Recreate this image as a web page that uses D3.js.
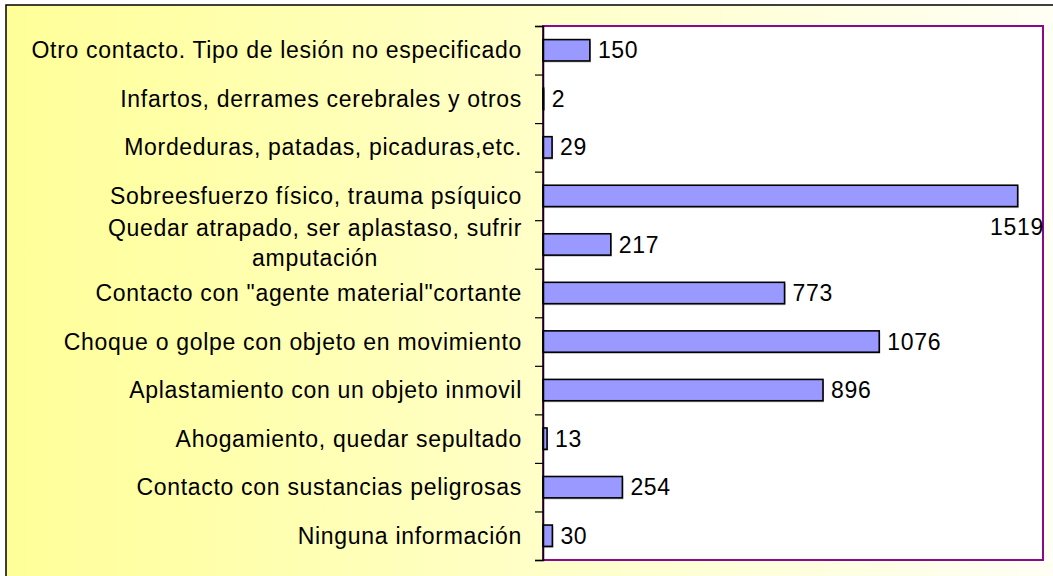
<!DOCTYPE html>
<head>
  <meta charset="utf-8">
  <title>Tipo de contacto</title>
  <style>
    body { margin: 0; }
    text { font-family: "Liberation Sans", Arial, sans-serif; letter-spacing: 0.7px; }
  </style>
</head>
<body>
  <script src="https://cdn.jsdelivr.net/npm/d3@7"></script>
  <script>
    // data, top to bottom
    var categories = [
      "Otro contacto. Tipo de lesión no especificado",
      "Infartos, derrames cerebrales y otros",
      "Mordeduras, patadas, picaduras,etc.",
      "Sobreesfuerzo físico, trauma psíquico",
      "Quedar atrapado, ser aplastaso, sufrir|amputación",
      "Contacto con \"agente material\"cortante",
      "Choque o golpe con objeto en movimiento",
      "Aplastamiento con un objeto inmovil",
      "Ahogamiento, quedar sepultado",
      "Contacto con sustancias peligrosas",
      "Ninguna información"
    ];
    var values = [150, 2, 29, 1519, 217, 773, 1076, 896, 13, 254, 30];
    var xMax = 1600;

    var w = 1053, h = 576;
    var plot = {left: 543, right: 1043, top: 26, bottom: 560};
    var fontSize = "23px";

    var svg = d3.select("body").append("svg")
        .attr("width", w)
        .attr("height", h);

    var grad = svg.append("defs").append("linearGradient")
        .attr("id", "bg")
        .attr("x1", "0").attr("x2", "1").attr("y1", "0").attr("y2", "0");
    grad.append("stop").attr("offset", "0%").attr("stop-color", "#ffff99");
    grad.append("stop").attr("offset", "100%").attr("stop-color", "#fffff6");

    // chart area background + border
    svg.append("rect")
        .attr("x", 6).attr("y", 5)
        .attr("width", w + 10).attr("height", h + 10)
        .attr("fill", "url(#bg)")
        .attr("stroke", "#000")
        .attr("stroke-width", 1.5);

    var x = d3.scaleLinear()
        .domain([0, xMax])
        .range([plot.left, plot.right]);

    var y = d3.scaleBand()
        .domain(categories)
        .range([plot.top, plot.bottom])
        .paddingInner(0.56)
        .paddingOuter(0.28);

    // plot area
    svg.append("rect")
        .attr("x", plot.left)
        .attr("y", plot.top)
        .attr("width", plot.right - plot.left)
        .attr("height", plot.bottom - plot.top)
        .attr("fill", "#fff")
        .attr("stroke", "#8b0a8b")
        .attr("stroke-width", 2);

    // bars (with faint shadow)
    svg.selectAll("rect.shadow")
        .data(values)
        .enter()
        .append("rect")
        .attr("class", "shadow")
        .attr("x", x(0) + 1)
        .attr("y", function(d, i) { return y(categories[i]) + 1.5; })
        .attr("width", function(d) { return x(d) - x(0); })
        .attr("height", y.bandwidth())
        .attr("fill", "#bbb");

    svg.selectAll("rect.bar")
        .data(values)
        .enter()
        .append("rect")
        .attr("class", "bar")
        .attr("x", x(0))
        .attr("y", function(d, i) { return y(categories[i]); })
        .attr("width", function(d) { return x(d) - x(0); })
        .attr("height", y.bandwidth())
        .attr("fill", "#9999ff")
        .attr("stroke", "#000")
        .attr("stroke-width", 1.6);

    // y axis: ticks at band boundaries
    var step = (plot.bottom - plot.top) / categories.length;
    var yEdge = d3.scaleLinear().domain([0, categories.length]).range([plot.top, plot.bottom]);
    var yAxis = d3.axisLeft(yEdge)
        .tickValues(d3.range(categories.length + 1))
        .tickSize(8)
        .tickFormat("");
    svg.append("g")
        .attr("transform", "translate(" + plot.left + ",0)")
        .call(yAxis)
        .call(function(g) {
          g.select(".domain").attr("stroke", "#000").attr("stroke-width", 1.5);
          g.selectAll(".tick line").attr("stroke", "#000").attr("stroke-width", 1.2);
        });

    // category labels
    var labels = svg.append("g").selectAll("text")
        .data(categories)
        .enter()
        .append("text")
        .attr("text-anchor", "end")
        .style("font-size", fontSize)
        .attr("fill", "#000");
    labels.each(function(d) {
      var lines = d.split("|");
      var cy = y(d) + y.bandwidth() / 2;
      var t = d3.select(this);
      if (lines.length == 1) {
        t.attr("x", 522).attr("y", cy).attr("dy", "0.35em").text(d);
      } else {
        t.attr("text-anchor", "middle");
        lines.forEach(function(l, j) {
          t.append("tspan").attr("y", cy - 1.5).attr("dy", (j - (lines.length - 1) / 2) * 1.3 + 0.35 + "em").text(l);
        });
        var first = t.select("tspan").node().getComputedTextLength();
        t.selectAll("tspan").attr("x", 522 - first / 2);
      }
    });

    // value labels
    svg.append("g").selectAll("text")
        .data(values)
        .enter()
        .append("text")
        .style("font-size", fontSize)
        .attr("fill", "#000")
        .each(function(d, i) {
          var t = d3.select(this).text(d);
          var cy = y(categories[i]) + y.bandwidth() / 2;
          var len = this.getComputedTextLength();
          if (x(d) + 8 + len > plot.right) {
            t.attr("x", plot.right + 1).attr("text-anchor", "end")
              .attr("y", cy + step * 0.64).attr("dy", "0.35em");
          } else {
            t.attr("x", x(d) + 8).attr("y", cy).attr("dy", "0.35em");
          }
        });
  </script>
</body>
